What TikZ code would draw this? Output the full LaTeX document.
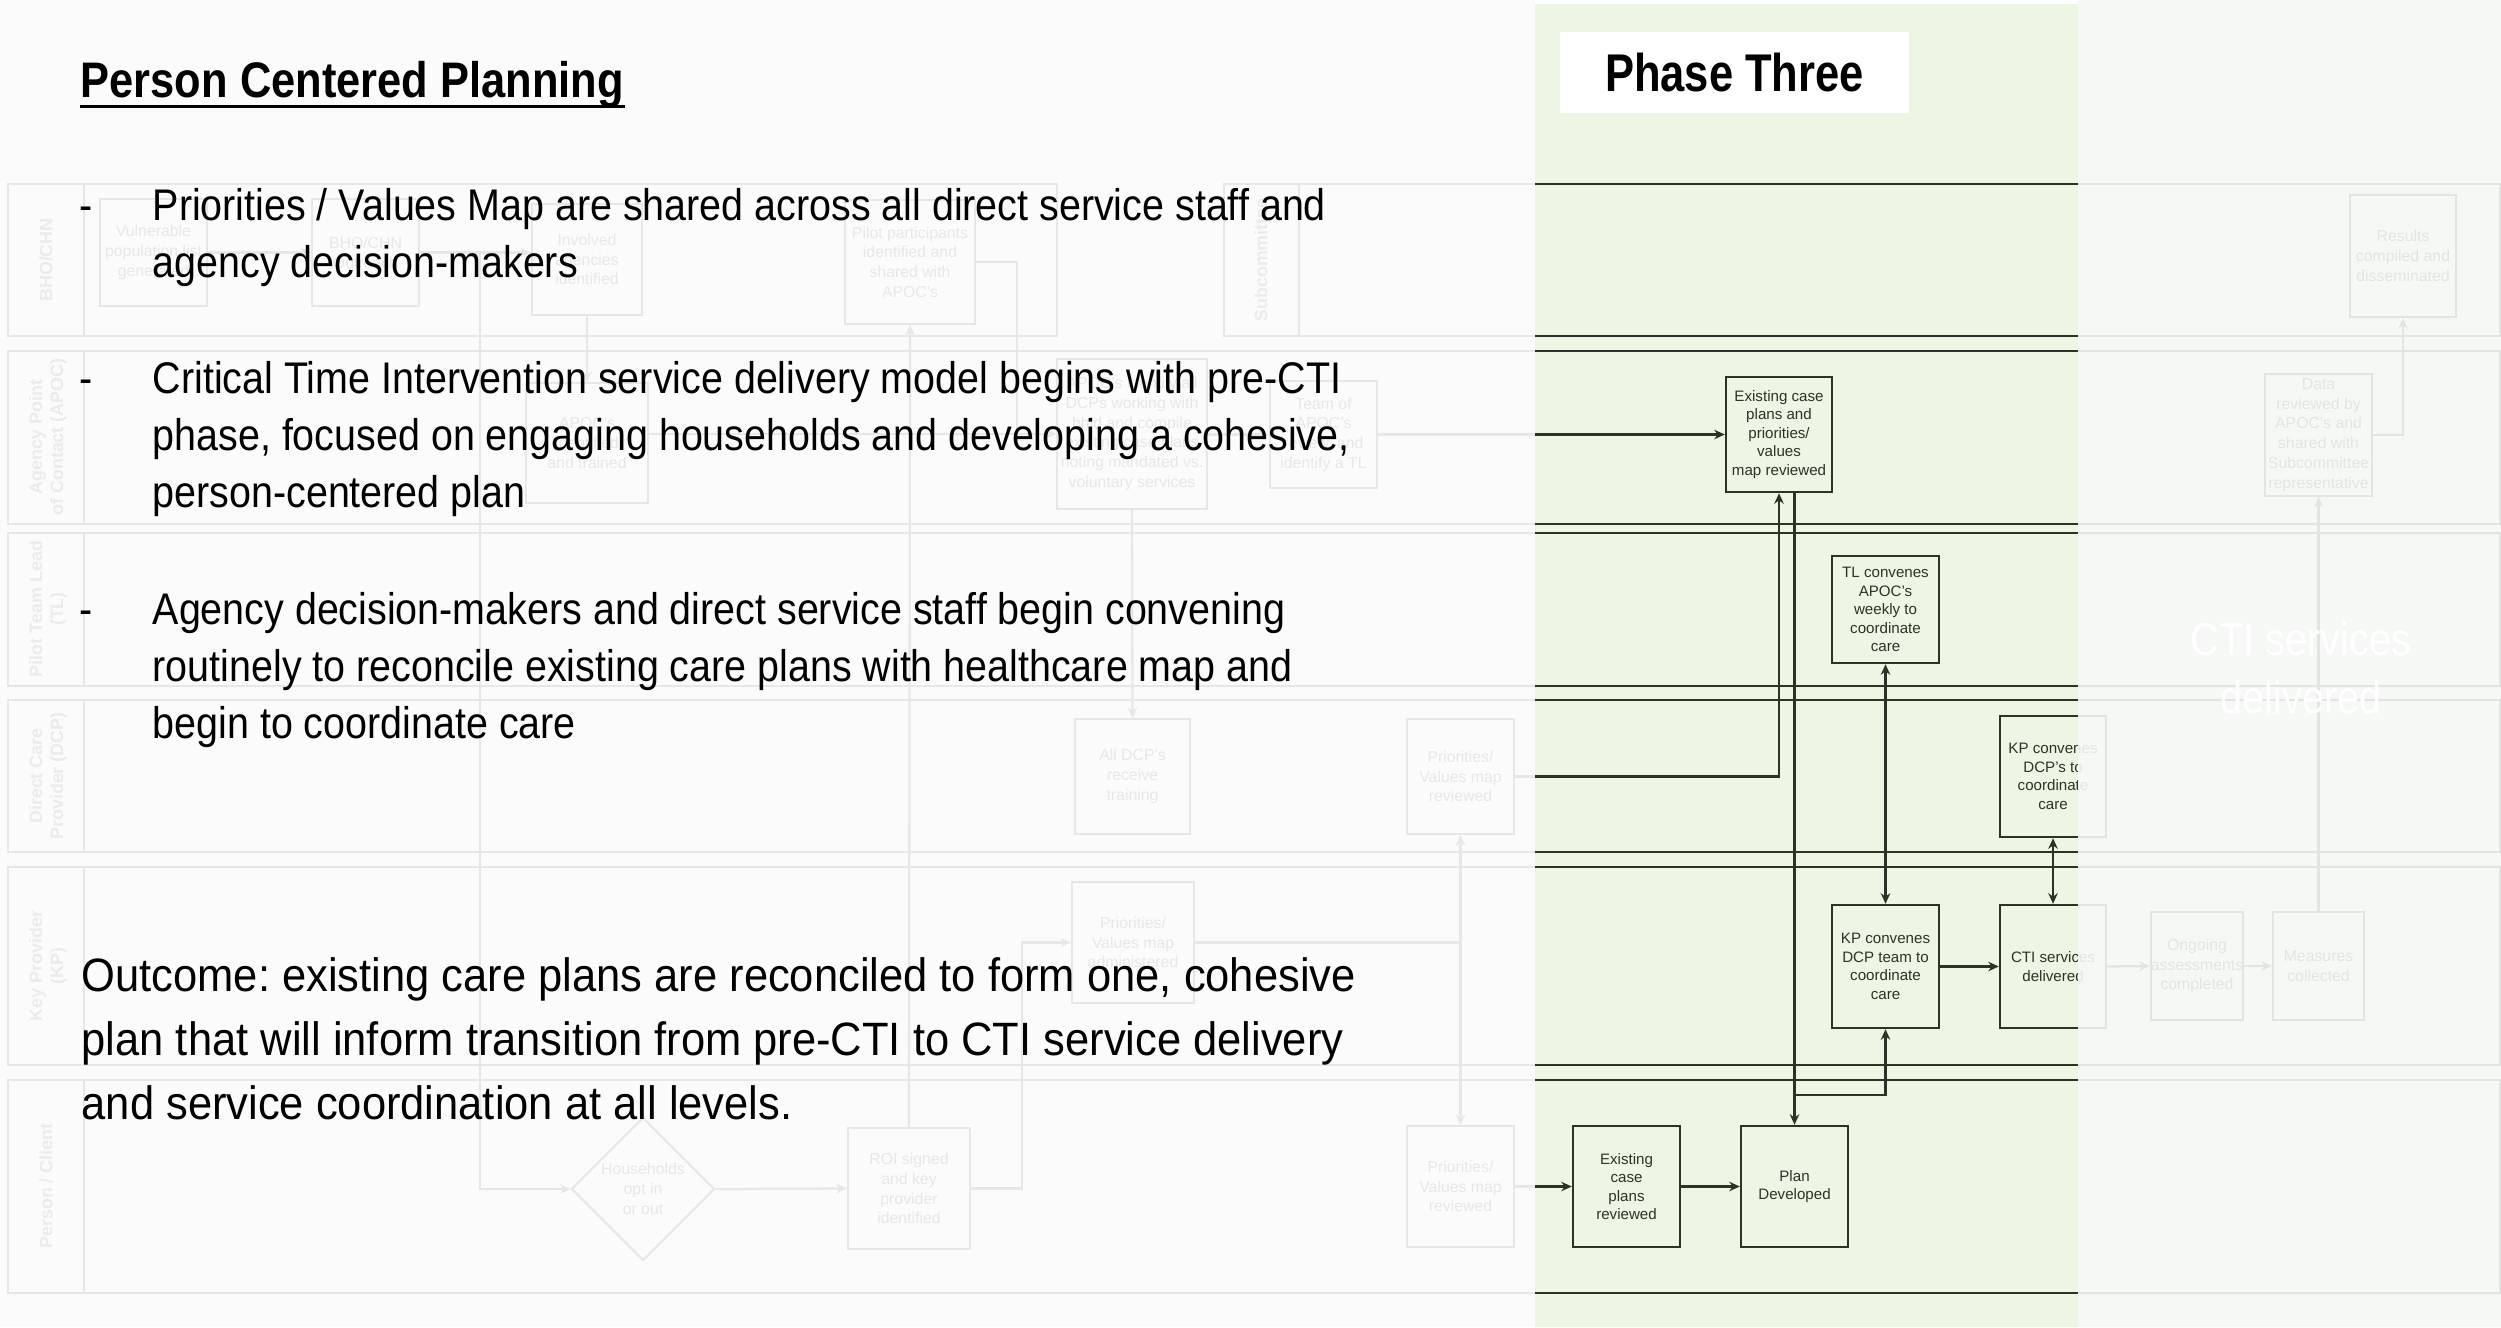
\documentclass[tikz,border=0pt]{standalone}
\usepackage{fontspec}
\setmainfont{Liberation Sans}
\newfontfamily\slidefont[FakeStretch=0.89]{Liberation Sans}
\newfontfamily\titlefont[FakeStretch=0.87]{Liberation Sans}
\newfontfamily\phasefont[FakeStretch=0.82]{Liberation Sans}
\newfontfamily\outcomefont[FakeStretch=0.93]{Liberation Sans}
\newfontfamily\bigwhitefont[FakeStretch=0.86]{Liberation Sans}
\usetikzlibrary{arrows.meta,calc,shapes.geometric}

\definecolor{inkc}{HTML}{2A3326}
\definecolor{panelgreen}{HTML}{EDF5E3}
\definecolor{veil}{HTML}{FBFBFB}
\definecolor{veilright}{HTML}{F6F8F6}

\newcommand{\bodyfont}{\slidefont\fontsize{12.6pt}{15pt}\selectfont}
\newcommand{\boxfont}{\fontsize{4.3pt}{5.25pt}\selectfont}
\newcommand{\greyboxfont}{\fontsize{4.5pt}{5.6pt}\selectfont}
\newcommand{\lanefont}{\bfseries\fontsize{5.1pt}{6pt}\selectfont}

\frenchspacing

\begin{document}
\begin{tikzpicture}[x=0.01cm,y=-0.01cm,
  lane/.style={draw=inkc,line width=0.6pt},
  lanelabel/.style={rotate=90,align=center,inner sep=0pt,text=inkc!80,font=\lanefont},
  flowbox/.style={draw=inkc,line width=0.7pt,text=inkc,align=center,inner sep=0pt,font=\boxfont},
  greybox/.style={draw=inkc,line width=0.6pt,text=inkc,align=center,inner sep=0pt,font=\greyboxfont},
  sz/.style 2 args={minimum width=#1*0.01cm,minimum height=#2*0.01cm},
  flow/.style={draw=inkc,line width=0.65pt,-{Stealth[length=3pt,width=2.7pt]}},
  flowboth/.style={draw=inkc,line width=0.65pt,{Stealth[length=3pt,width=2.7pt]}-{Stealth[length=3pt,width=2.7pt]}},
  bodytext/.style={anchor=base west,inner sep=0pt,text=black,font=\bodyfont},
  outcometext/.style={anchor=base west,inner sep=0pt,text=black,font=\outcomefont\fontsize{13.3pt}{16pt}\selectfont}
]
\useasboundingbox (0,0) rectangle (2501,1327);
\fill[white] (0,0) rectangle (2501,1327);

% Phase three column
\fill[panelgreen] (1535,4) rectangle (2078,1327);

% ---------------- swimlanes ----------------
\draw[lane] (8,184) rectangle (1057,336);   \draw[lane] (84,184) -- (84,336);
\draw[lane] (1224,184) rectangle (2500,336); \draw[lane] (1299,184) -- (1299,336);
\draw[lane] (8,351) rectangle (2500,524);   \draw[lane] (84,351) -- (84,524);
\draw[lane] (8,533) rectangle (2500,686);   \draw[lane] (84,533) -- (84,686);
\draw[lane] (8,700) rectangle (2500,852);   \draw[lane] (84,700) -- (84,852);
\draw[lane] (8,867) rectangle (2500,1065);  \draw[lane] (84,867) -- (84,1065);
\draw[lane] (8,1080) rectangle (2500,1293); \draw[lane] (84,1080) -- (84,1293);

\node[lanelabel] (lbho)  at (46,260)  {BHO/CHN};
\node[lanelabel] (lapoc) at (48,437)  {Agency Point\\of Contact (APOC)};
\node[lanelabel] (ltl)   at (48,609)  {Pilot Team Lead\\(TL)};
\node[lanelabel] (ldcp)  at (48,776)  {Direct Care\\Provider (DCP)};
\node[lanelabel] (lkp)   at (48,966)  {Key Provider\\(KP)};
\node[lanelabel] (lper)  at (46,1186) {Person / Client};
\node[lanelabel] (lsub)  at (1261,260) {Subcommittee};

% ---------------- earlier steps ----------------
\node[greybox,sz={107}{107}] (vul)     at (153.5,252.5) {Vulnerable\\population list\\generated};
\node[greybox,sz={107}{107}] (bhoout)  at (365.5,252.5) {BHO/CHN\\Outreach};
\node[greybox,sz={110}{111}] (involved) at (587,259.5) {Involved\\agencies\\identified};
\node[greybox,sz={130}{124}] (pilotp)  at (910,262) {Pilot participants\\identified and\\shared with\\APOC's};
\node[greybox,sz={122}{120}] (apoctr)  at (587,443) {APOC's\\identified\\and trained};
\node[greybox,sz={150}{150}] (apocid)  at (1132,434) {APOC's identify all\\DCPs working with\\hhld and compile\\existing case plans\\noting mandated vs.\\voluntary services};
\node[greybox,sz={107}{107}] (teamapoc) at (1323.5,434.5) {Team of\\APOC's\\review, and\\identify a TL};
\node[greybox,sz={115}{115}] (dcptrain) at (1132.5,776.5) {All DCP's\\receive\\training};
\node[greybox,sz={107}{115}] (pvdcp)   at (1460.5,776.5) {Priorities/\\Values map\\reviewed};
\node[greybox,sz={122}{121}] (pvadmin) at (1133,942.5) {Priorities/\\Values map\\administered};
\node[greybox,diamond,sz={143}{143}] (optin) at (643,1189) {Households\\opt in\\or out};
\node[greybox,sz={122}{121}] (roi)     at (909,1188.5) {ROI signed\\and key\\provider\\identified};
\node[greybox,sz={107}{121}] (pvperson) at (1460.5,1186.5) {Priorities/\\Values map\\reviewed};

\coordinate (optsplit) at (480,252.5);
\draw[flow] (vul) -- (bhoout);
\draw[flow] (bhoout.east) -- (bhoout.east -| involved.west);
\draw[flow] (optsplit) |- (optin.west);
\draw[flow] (involved.south) -- (apoctr.north);
\draw[flow] (apoctr.east |- apocid.west) -- (apocid.west);
\draw[flow] (pilotp.east) -- ++(41,0) |- (apocid.west);
\draw[flow] (apocid.east |- teamapoc.west) -- (teamapoc.west);
\draw[flow] (apocid.south) -- (dcptrain.north);
\draw[flow] (optin.east) -- (roi.west);
\draw[flow] (roi.north) -- (pilotp.south);
\draw[flow] (roi.east) -- ++(51,0) |- (pvadmin.west);
\draw[flow] (pvadmin.east) -| (pvdcp.south);
\draw[flow] (pvadmin.east) -| (pvperson.north);

% ---------------- phase three ----------------
\node[flowbox,sz={106}{115}] (ecpmap)  at (1779,434.5)  {Existing case\\plans and\\priorities/\\values\\map reviewed};
\node[flowbox,sz={107}{107}] (tlconv)  at (1885.5,609.5) {TL convenes\\APOC's\\weekly to\\coordinate\\care};
\node[flowbox,sz={106}{121}] (kpdcp)   at (2053,776.5)  {KP convenes\\DCP's to\\coordinate\\care};
\node[flowbox,sz={107}{123}] (kpteam)  at (1885.5,966.5) {KP convenes\\DCP team to\\coordinate\\care};
\node[flowbox,sz={106}{123}] (ctidel)  at (2053,966.5)  {CTI services\\delivered};
\node[flowbox,sz={107}{121}] (ecplans) at (1626.5,1186.5) {Existing\\case\\plans\\reviewed};
\node[flowbox,sz={107}{121}] (plandev) at (1794.5,1186.5) {Plan\\Developed};

\draw[flow] (teamapoc.east) -- (ecpmap.west);
\draw[flow] (pvdcp.east) -| (ecpmap.south);
\draw[flow] (pvperson.east) -- (ecplans.west);
\draw[flow] (ecplans) -- (plandev);
\draw[flow] (ecpmap.south -| plandev.north) -- (plandev.north);
\coordinate (kpjoin) at ($(plandev.north)+(0,-30)$);
\draw[flow] (kpjoin) -| (kpteam.south);
\draw[flowboth] (tlconv.south) -- (kpteam.north);
\draw[flowboth] (kpdcp.south) -- (ctidel.north);
\draw[flow] (kpteam) -- (ctidel);

% ---------------- later steps ----------------
\node[greybox,sz={106}{122}] (results)  at (2403,256)   {Results\\compiled and\\disseminated};
\node[greybox,sz={107}{122}] (datarev)  at (2318.5,435) {Data\\reviewed by\\APOC's and\\shared with\\Subcommittee\\representative};
\node[greybox,sz={92}{108}]  (ongoing)  at (2197,966)   {Ongoing\\assessments\\completed};
\node[greybox,sz={91}{108}]  (measures) at (2318.5,966) {Measures\\collected};

\draw[flow] (ctidel.east) -- (ongoing.west);
\draw[flow] (ongoing) -- (measures);
\draw[flow] (measures.north) -- (datarev.south);
\draw[flow] (datarev.east) -| (results.south);

% ---------------- veils over the other phases ----------------
\fill[veil,fill opacity=0.9] (0,0) rectangle (1535,1327);
\fill[veilright,fill opacity=0.9] (2078,0) rectangle (2501,1327);

% ---------------- slide text ----------------
\node[bodytext,font=\titlefont\bfseries\fontsize{14.2pt}{17pt}\selectfont] (title) at (80,97) {Person Centered Planning};
\draw[line width=0.85pt] ([yshift=-2.7pt]title.base west) -- ([yshift=-2.7pt]title.base east);

\node[bodytext] (dasha) at (79,220) {-};
\node[bodytext] (b1a) at (152,220) {Priorities / Values Map are shared across all direct service staff and};
\node[bodytext] (b1b) at (152,277) {agency decision-makers};
\node[bodytext] (dashb) at (79,393) {-};
\node[bodytext] (b2a) at (152,393) {Critical Time Intervention service delivery model begins with pre-CTI};
\node[bodytext] (b2b) at (152,450) {phase, focused on engaging households and developing a cohesive,};
\node[bodytext] (b2c) at (152,507) {person-centered plan};
\node[bodytext] (dashc) at (79,624) {-};
\node[bodytext] (b3a) at (152,624) {Agency decision-makers and direct service staff begin convening};
\node[bodytext] (b3b) at (152,681) {routinely to reconcile existing care plans with healthcare map and};
\node[bodytext] (b3c) at (152,738) {begin to coordinate care};
\node[outcometext] (outa) at (81,991)  {Outcome: existing care plans are reconciled to form one, cohesive};
\node[outcometext] (outb) at (81,1055) {plan that will inform transition from pre-CTI to CTI service delivery};
\node[outcometext] (outc) at (81,1119) {and service coordination at all levels.};

\node[fill=white,sz={349}{81},inner sep=0pt,font=\phasefont\bfseries\fontsize{15.1pt}{18pt}\selectfont] (phase) at (1734.5,72.5) {Phase Three};

\node[anchor=base,inner sep=0pt,text=white,font=\bigwhitefont\fontsize{13.1pt}{16pt}\selectfont] (ctiwa) at (2301,655) {CTI services};
\node[anchor=base,inner sep=0pt,text=white,font=\bigwhitefont\fontsize{13.1pt}{16pt}\selectfont] (ctiwb) at (2301,713) {delivered};
\end{tikzpicture}
\end{document}
